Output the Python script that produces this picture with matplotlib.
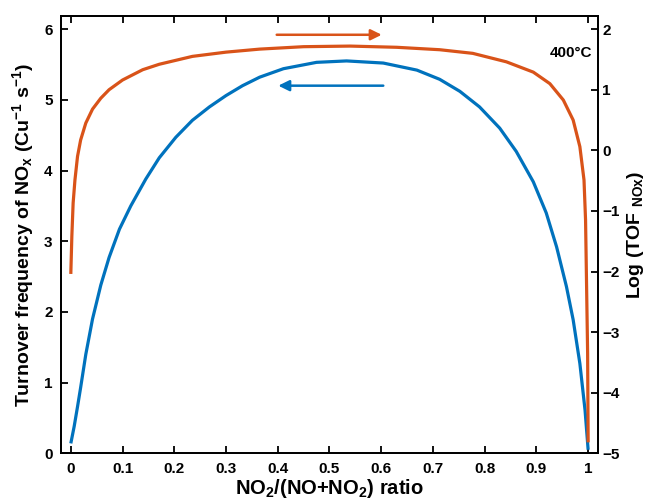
import matplotlib
matplotlib.use("Agg")
import matplotlib.pyplot as plt

# fonts: bold Arial-like everywhere, math text bold too
plt.rcParams['font.family'] = ['Liberation Sans', 'DejaVu Sans']
plt.rcParams['font.weight'] = 'bold'
plt.rcParams['mathtext.fontset'] = 'custom'
plt.rcParams['mathtext.rm'] = 'Liberation Sans:bold'
plt.rcParams['mathtext.bf'] = 'Liberation Sans:bold'
plt.rcParams['mathtext.it'] = 'Liberation Sans:bold'
plt.rcParams['mathtext.default'] = 'rm'

# TOF (left axis)
tof_x = [0.0, 0.0065, 0.013, 0.019, 0.029, 0.042, 0.058, 0.074, 0.094, 0.116, 0.145, 0.171,
         0.203, 0.235, 0.268, 0.300, 0.332, 0.365, 0.411, 0.475, 0.533, 0.604, 0.669, 0.713,
         0.752, 0.790, 0.829, 0.861, 0.894, 0.919, 0.939, 0.958, 0.971, 0.984, 0.994, 1.0]
tof_y = [0.14, 0.38, 0.66, 0.93, 1.40, 1.90, 2.38, 2.77, 3.17, 3.50, 3.88, 4.18,
         4.47, 4.71, 4.90, 5.06, 5.20, 5.32, 5.44, 5.53, 5.55, 5.52, 5.42, 5.29,
         5.12, 4.90, 4.60, 4.27, 3.84, 3.40, 2.92, 2.36, 1.89, 1.27, 0.61, 0.05]

# log(TOF) (right axis)
log_x = [0.0, 0.002, 0.0045, 0.008, 0.013, 0.019, 0.029, 0.042, 0.058, 0.074, 0.1, 0.139,
         0.171, 0.235, 0.3, 0.365, 0.45, 0.54, 0.63, 0.713, 0.777, 0.842, 0.894, 0.926,
         0.952, 0.971, 0.984, 0.992, 0.995, 0.997, 0.999, 1.0]
log_y = [-2.04, -1.42, -0.87, -0.49, -0.10, 0.17, 0.45, 0.68, 0.86, 1.00, 1.16, 1.33,
         1.42, 1.55, 1.62, 1.67, 1.71, 1.72, 1.70, 1.66, 1.60, 1.46, 1.29, 1.10,
         0.83, 0.50, 0.06, -0.49, -1.15, -2.25, -3.35, -4.82]

x_ticks = [0, 0.1, 0.2, 0.3, 0.4, 0.5, 0.6, 0.7, 0.8, 0.9, 1]
x_labels = ['0', '0.1', '0.2', '0.3', '0.4', '0.5', '0.6', '0.7', '0.8', '0.9', '1']
left_ticks = [0, 1, 2, 3, 4, 5, 6]
right_ticks = [-5, -4, -3, -2, -1, 0, 1, 2]

# direction arrows (x from, x to, y on left axis)
arrow_log = (0.398, 0.601, 5.92)
arrow_tof = (0.604, 0.401, 5.20)

orange = '#D95319'
blue = '#0072BD'

fig = plt.figure(figsize=(6.48, 5.01), dpi=100)
ax = fig.add_axes([0.0941, 0.0952, 0.8287, 0.8735])
ax2 = ax.twinx()

ax.plot(tof_x, tof_y, color=blue, lw=2.3, solid_capstyle='butt')
ax2.plot(log_x, log_y, color=orange, lw=2.3, solid_capstyle='butt')

ax.set_xlim(-0.019, 1.019)
ax.set_ylim(0, 6.19)
ax2.set_ylim(-5, 6.19 * 7 / 6 - 5)

ax.set_xticks(x_ticks, x_labels)
ax.set_yticks(left_ticks)
ax2.set_yticks(right_ticks)

ax.tick_params(axis='x', direction='in', top=True, length=5, width=1.3, labelsize=11, pad=6)
ax.tick_params(axis='y', direction='in', length=5, width=1.3, labelsize=11, pad=6)
ax2.tick_params(axis='y', direction='in', length=5, width=1.3, labelsize=11, pad=3)
for a in (ax, ax2):
    for s in a.spines.values():
        s.set_linewidth(1.3)

ax.set_xlabel(r'NO$_2$/(NO+NO$_2$) ratio', fontsize=14.5, fontweight='bold', labelpad=1)
ax.set_ylabel(r'Turnover frequency of NO$_x$ (Cu$^{-1}$ s$^{-1}$)', fontsize=14,
              fontweight='bold', labelpad=6)
ax2.set_ylabel(r'Log (TOF $_{NOx}$)', fontsize=14, fontweight='bold', labelpad=4)

ax.annotate('', xy=(arrow_log[1], arrow_log[2]), xytext=(arrow_log[0], arrow_log[2]),
            arrowprops=dict(arrowstyle='-|>,head_length=0.65,head_width=0.32', color=orange,
                            lw=1.8, shrinkA=0, shrinkB=0))
ax.annotate('', xy=(arrow_tof[1], arrow_tof[2]), xytext=(arrow_tof[0], arrow_tof[2]),
            arrowprops=dict(arrowstyle='-|>,head_length=0.65,head_width=0.32', color=blue,
                            lw=1.8, shrinkA=0, shrinkB=0))

ax.text(1.007, 5.66, '400°C', ha='right', va='center', fontsize=11, fontweight='bold')

fig.savefig('out.png', dpi=100)
